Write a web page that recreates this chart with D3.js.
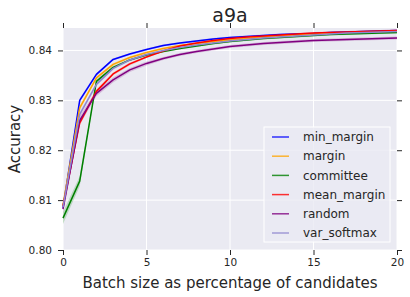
<!DOCTYPE html>
<html>
<head>
  <script src="https://d3js.org/d3.v7.min.js"></script>
  <style>
    body { margin: 0; background: white; }
    text { font-family: "DejaVu Sans", sans-serif; fill: #262626; }
  </style>
</head>
<body>
  <div id="chart"></div>
  <script>
    // batch size (% of candidates)
    var batchSizes = [0, 1, 2, 3, 4, 5, 6, 7, 8, 9, 10, 11, 12, 13, 14, 15, 16, 17, 18, 19, 20];

    var minMargin  = [0.8085, 0.8300, 0.8352, 0.8382, 0.8393, 0.8402, 0.8410, 0.8415, 0.8419, 0.8423, 0.8426, 0.8428, 0.8430, 0.8432, 0.8433, 0.8434, 0.8436, 0.8437, 0.8438, 0.8439, 0.8440];
    var margin     = [0.8090, 0.8285, 0.8345, 0.8372, 0.8386, 0.8396, 0.8404, 0.8410, 0.8414, 0.8418, 0.8421, 0.8424, 0.8427, 0.8429, 0.8431, 0.8433, 0.8434, 0.8435, 0.8436, 0.8437, 0.8438];
    var committee  = [0.8064, 0.8138, 0.8338, 0.8366, 0.8381, 0.8391, 0.8398, 0.8404, 0.8409, 0.8414, 0.8418, 0.8421, 0.8424, 0.8426, 0.8428, 0.8430, 0.8432, 0.8433, 0.8434, 0.8435, 0.8436];
    var meanMargin = [0.8088, 0.8255, 0.8318, 0.8353, 0.8373, 0.8387, 0.8399, 0.8409, 0.8415, 0.8420, 0.8424, 0.8427, 0.8429, 0.8431, 0.8433, 0.8435, 0.8436, 0.8437, 0.8438, 0.8439, 0.8440];
    var random     = [0.8082, 0.8260, 0.8314, 0.8341, 0.8361, 0.8374, 0.8384, 0.8392, 0.8398, 0.8403, 0.8408, 0.8411, 0.8414, 0.8416, 0.8418, 0.8420, 0.8421, 0.8422, 0.8423, 0.8424, 0.8425];
    var varSoftmax = [0.8086, 0.8272, 0.8332, 0.8364, 0.8381, 0.8392, 0.8400, 0.8406, 0.8411, 0.8415, 0.8419, 0.8422, 0.8425, 0.8427, 0.8429, 0.8431, 0.8433, 0.8435, 0.8436, 0.8437, 0.8438];

    // half-width of the shaded band around each line
    var minMarginSpread  = [0.0006, 0.0004, 0.0003, 0.0002, 0.0002, 0.0002, 0.0002, 0.0002, 0.0002, 0.0002, 0.0002, 0.0002, 0.0002, 0.0002, 0.0002, 0.0002, 0.0002, 0.0002, 0.0002, 0.0002, 0.0002];
    var marginSpread     = [0.0006, 0.0005, 0.0003, 0.0003, 0.0002, 0.0002, 0.0002, 0.0002, 0.0002, 0.0002, 0.0002, 0.0002, 0.0002, 0.0002, 0.0002, 0.0002, 0.0002, 0.0002, 0.0002, 0.0002, 0.0002];
    var committeeSpread  = [0.0012, 0.0010, 0.0004, 0.0003, 0.0002, 0.0002, 0.0002, 0.0002, 0.0002, 0.0002, 0.0002, 0.0002, 0.0002, 0.0002, 0.0002, 0.0002, 0.0002, 0.0002, 0.0002, 0.0002, 0.0002];
    var meanMarginSpread = [0.0006, 0.0006, 0.0004, 0.0003, 0.0003, 0.0002, 0.0002, 0.0002, 0.0002, 0.0002, 0.0002, 0.0002, 0.0002, 0.0002, 0.0002, 0.0002, 0.0002, 0.0002, 0.0002, 0.0002, 0.0002];
    var randomSpread     = [0.0008, 0.0008, 0.0006, 0.0005, 0.0004, 0.0004, 0.0003, 0.0003, 0.0003, 0.0003, 0.0003, 0.0003, 0.0003, 0.0003, 0.0003, 0.0003, 0.0003, 0.0003, 0.0003, 0.0003, 0.0003];
    var varSoftmaxSpread = [0.0006, 0.0005, 0.0004, 0.0003, 0.0003, 0.0002, 0.0002, 0.0002, 0.0002, 0.0002, 0.0002, 0.0002, 0.0002, 0.0002, 0.0002, 0.0002, 0.0002, 0.0002, 0.0002, 0.0002, 0.0002];

    var xTicks = [0, 5, 10, 15, 20];
    var yTicks = [0.80, 0.81, 0.82, 0.83, 0.84];

    var series = [
      { name: "min_margin",  values: minMargin,  spread: minMarginSpread,  color: "#0000ff" },
      { name: "margin",      values: margin,     spread: marginSpread,     color: "#ffa500" },
      { name: "committee",   values: committee,  spread: committeeSpread,  color: "#008000" },
      { name: "mean_margin", values: meanMargin, spread: meanMarginSpread, color: "#ff0000" },
      { name: "random",      values: random,     spread: randomSpread,     color: "#800080" },
      { name: "var_softmax", values: varSoftmax, spread: varSoftmaxSpread, color: "#8f86d0" }
    ];

    var W = 410, H = 297;
    var margins = { top: 28, right: 13, bottom: 47, left: 63 };

    var svg = d3.select("#chart")
                .append("svg")
                .attr("width", W)
                .attr("height", H);

    var xScale = d3.scaleLinear()
                   .domain([0, 20])
                   .range([margins.left, W - margins.right]);

    var yScale = d3.scaleLinear()
                   .domain([0.80, 0.8445])
                   .range([H - margins.bottom, margins.top]);

    // plot background
    svg.append("rect")
       .attr("x", xScale(0))
       .attr("y", yScale(0.8445))
       .attr("width", xScale(20) - xScale(0))
       .attr("height", yScale(0.80) - yScale(0.8445))
       .attr("fill", "#eaeaf2");

    // grid
    svg.append("g")
       .selectAll("line")
       .data(xTicks)
       .enter()
       .append("line")
       .attr("x1", d => xScale(d)).attr("x2", d => xScale(d))
       .attr("y1", yScale.range()[0]).attr("y2", yScale.range()[1])
       .attr("stroke", "white").attr("stroke-width", 1);

    svg.append("g")
       .selectAll("line")
       .data(yTicks)
       .enter()
       .append("line")
       .attr("x1", xScale.range()[0]).attr("x2", xScale.range()[1])
       .attr("y1", d => yScale(d)).attr("y2", d => yScale(d))
       .attr("stroke", "white").attr("stroke-width", 1);

    // bands then lines
    var area = d3.area()
                 .x((d, i) => xScale(batchSizes[i]))
                 .y0(d => yScale(d[0]))
                 .y1(d => yScale(d[1]));

    var line = d3.line()
                 .x((d, i) => xScale(batchSizes[i]))
                 .y(d => yScale(d));

    var plot = svg.append("g");

    series.forEach(function(s) {
      var band = s.values.map((v, i) => [v - s.spread[i], v + s.spread[i]]);
      plot.append("path")
          .datum(band)
          .attr("fill", s.color)
          .attr("fill-opacity", 0.2)
          .attr("d", area);
    });

    series.forEach(function(s) {
      plot.append("path")
          .datum(s.values)
          .attr("fill", "none")
          .attr("stroke", s.color)
          .attr("stroke-width", 1.5)
          .attr("stroke-linejoin", "round")
          .attr("d", line);
    });

    // axes: ticks outward on all four sides
    function styleAxis(g) {
      g.select(".domain").remove();
      g.selectAll(".tick line").attr("stroke", "#262626");
      g.selectAll(".tick text")
       .attr("font-family", "DejaVu Sans, sans-serif")
       .attr("font-size", 10.5)
       .attr("fill", "#262626");
    }

    svg.append("g")
       .attr("transform", `translate(0, ${yScale(0.80)})`)
       .call(d3.axisBottom(xScale).tickValues(xTicks).tickFormat(d3.format("d")).tickSize(5).tickPadding(4))
       .call(styleAxis);

    svg.append("g")
       .attr("transform", `translate(0, ${yScale(0.8445)})`)
       .call(d3.axisTop(xScale).tickValues(xTicks).tickFormat("").tickSize(5))
       .call(styleAxis);

    svg.append("g")
       .attr("transform", `translate(${xScale(0)}, 0)`)
       .call(d3.axisLeft(yScale).tickValues(yTicks).tickFormat(d3.format(".2f")).tickSize(5).tickPadding(6))
       .call(styleAxis);

    svg.append("g")
       .attr("transform", `translate(${xScale(20)}, 0)`)
       .call(d3.axisRight(yScale).tickValues(yTicks).tickFormat("").tickSize(5))
       .call(styleAxis);

    // labels
    svg.append("text")
       .attr("x", (xScale(0) + xScale(20)) / 2)
       .attr("y", 22)
       .attr("text-anchor", "middle")
       .attr("font-size", 19)
       .text("a9a");

    svg.append("text")
       .attr("x", (xScale(0) + xScale(20)) / 2)
       .attr("y", 288)
       .attr("text-anchor", "middle")
       .attr("font-size", 15)
       .text("Batch size as percentage of candidates");

    svg.append("text")
       .attr("transform", `translate(20, ${(yScale(0.80) + yScale(0.8445)) / 2}) rotate(-90)`)
       .attr("text-anchor", "middle")
       .attr("font-size", 15)
       .text("Accuracy");

    // legend
    var legend = svg.append("g").attr("transform", "translate(264, 127)");

    legend.append("rect")
          .attr("width", 126)
          .attr("height", 115)
          .attr("fill", "#eaeaf2")
          .attr("fill-opacity", 0.8)
          .attr("stroke", "#ffffff")
          .attr("stroke-width", 1);

    var items = legend.selectAll("g.item")
                      .data(series)
                      .enter()
                      .append("g")
                      .attr("class", "item")
                      .attr("transform", (d, i) => `translate(0, ${10 + i * 19.2})`);

    items.append("line")
         .attr("x1", 8).attr("x2", 25)
         .attr("stroke", d => d.color)
         .attr("stroke-opacity", 0.8)
         .attr("stroke-width", 1.5);

    items.append("text")
         .attr("x", 39)
         .attr("dy", "0.35em")
         .attr("font-size", 12)
         .text(d => d.name);
  </script>
</body>
</html>
